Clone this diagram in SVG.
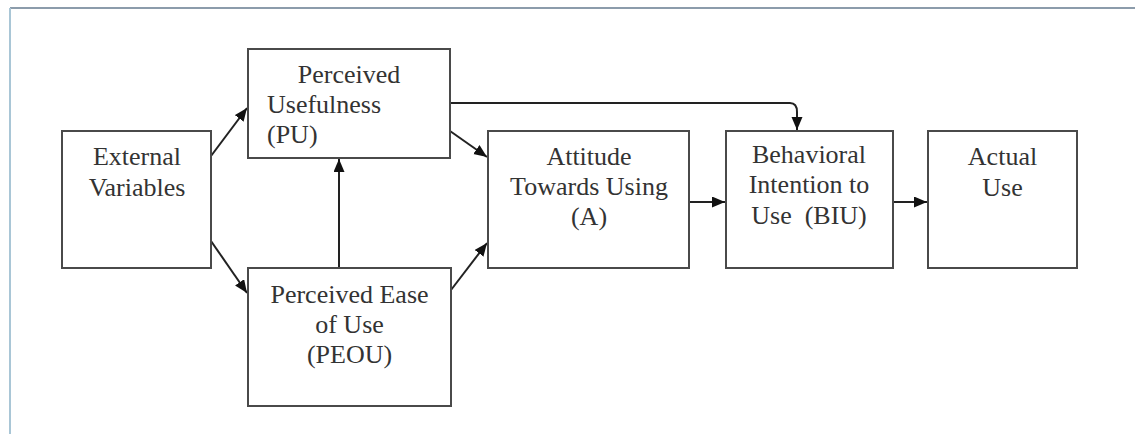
<svg xmlns="http://www.w3.org/2000/svg" width="1135" height="434" viewBox="0 0 1135 434">
<style>
.box{fill:#fff;stroke:#4a4a4a;stroke-width:2}
.t{font-family:"Liberation Serif","Times New Roman",serif;font-size:26px;fill:#333}
.c{text-anchor:middle}
.ln{fill:none;stroke:#222;stroke-width:2}
</style>
<defs>
<marker id="ah" markerUnits="userSpaceOnUse" markerWidth="14" markerHeight="12" refX="13" refY="5.5" orient="auto">
<path d="M0,0 L13,5.5 L0,11 z" fill="#111"/>
</marker>
</defs>
<rect width="1135" height="434" fill="#fff"/>
<line x1="10" y1="8" x2="1135" y2="8" stroke="#8c9cab" stroke-width="2"/>
<line x1="10" y1="8" x2="10" y2="434" stroke="#a9c6d6" stroke-width="2"/>
<g id="connectors">
<line class="ln" x1="211" y1="156" x2="247" y2="108" marker-end="url(#ah)"/>
<line class="ln" x1="211" y1="241" x2="247" y2="293" marker-end="url(#ah)"/>
<line class="ln" x1="339" y1="268" x2="339" y2="159" marker-end="url(#ah)"/>
<line class="ln" x1="450" y1="131" x2="487" y2="157" marker-end="url(#ah)"/>
<line class="ln" x1="451" y1="290" x2="487" y2="243" marker-end="url(#ah)"/>
<path class="ln" d="M450,103 H790 Q797,103 797,112 V130" marker-end="url(#ah)"/>
<line class="ln" x1="689" y1="202" x2="725" y2="202" marker-end="url(#ah)"/>
<line class="ln" x1="893" y1="202" x2="927" y2="202" marker-end="url(#ah)"/>
</g>
<g id="external">
<rect class="box" x="62" y="131" width="149" height="137"/>
<text class="t c" x="137" y="165">External</text>
<text class="t c" x="137" y="196">Variables</text>
</g>
<g id="pu">
<rect class="box" x="248" y="49" width="202" height="109"/>
<text class="t c" x="349" y="83">Perceived</text>
<text class="t" x="267" y="113">Usefulness</text>
<text class="t" x="267" y="143">(PU)</text>
</g>
<g id="peou">
<rect class="box" x="248" y="268" width="203" height="138"/>
<text class="t c" x="349.5" y="303">Perceived Ease</text>
<text class="t c" x="349.5" y="333">of Use</text>
<text class="t c" x="349.5" y="363">(PEOU)</text>
</g>
<g id="attitude">
<rect class="box" x="488" y="131" width="201" height="137"/>
<text class="t c" x="589" y="165">Attitude</text>
<text class="t c" x="589" y="195">Towards Using</text>
<text class="t c" x="589" y="225">(A)</text>
</g>
<g id="biu">
<rect class="box" x="726" y="131" width="167" height="137"/>
<text class="t c" x="809" y="163">Behavioral</text>
<text class="t c" x="809" y="193">Intention to</text>
<text class="t c" x="809" y="224" xml:space="preserve">Use  (BIU)</text>
</g>
<g id="actual">
<rect class="box" x="928" y="131" width="149" height="137"/>
<text class="t c" x="1002.5" y="165">Actual</text>
<text class="t c" x="1002.5" y="196">Use</text>
</g>
</svg>
